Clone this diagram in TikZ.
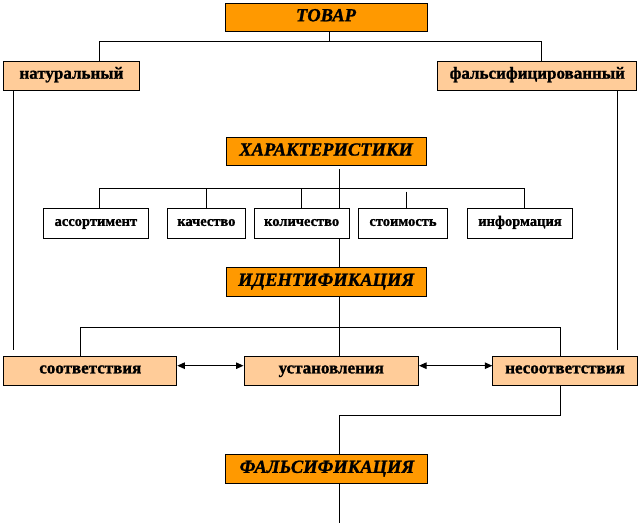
\documentclass[tikz,border=0pt]{standalone}
\usepackage{fontspec}
\setmainfont{Liberation Serif}[FakeBold=1.2]
\usetikzlibrary{arrows.meta}
\definecolor{orng}{HTML}{FF9900}
\definecolor{peach}{HTML}{FFCC99}
\tikzset{
  box/.style={draw, line width=1pt, inner sep=0pt, anchor=north west},
  mainbox/.style={box, fill=orng, minimum height=28.5pt,
    text height=0.76em, text depth=0em,
    font=\fontsize{18.5}{20}\selectfont\bfseries\itshape},
  peachbox/.style={box, fill=peach, minimum height=29pt,
    text height=0.48em, text depth=0em,
    font=\fontsize{17}{19}\selectfont\bfseries},
  whitebox/.style={box, fill=white, minimum height=29.4pt,
    text height=0.48em, text depth=0em,
    font=\fontsize{14.5}{16}\selectfont\bfseries},
  conn/.style={line width=1pt},
  dblarrow/.style={line width=1pt, {Triangle[length=7.5pt,width=6.5pt]}-{Triangle[length=7.5pt,width=6.5pt]}}
}
\begin{document}
\begin{tikzpicture}[x=1pt,y=-1pt]
\useasboundingbox (0,0) rectangle (640,524);
% coordinates of connector bends
\coordinate (t0) at (329.3,41.3);
\coordinate (tl) at (99.3,41.3);
\coordinate (tr) at (541,41.3);
\coordinate (nl) at (13.5,349.5);
\coordinate (fl) at (617.3,349.5);
\coordinate (h0) at (339.7,169.3);
\coordinate (hl) at (99.3,188.3);
\coordinate (hr) at (524.3,188.3);
\coordinate (hk) at (206.2,188.3);
\coordinate (hq) at (301.7,188.3);
\coordinate (hs) at (406.3,191.5);
\coordinate (i0) at (339.7,327.3);
\coordinate (il) at (80.7,327.3);
\coordinate (ir) at (560.3,327.3);
\coordinate (n0) at (560.3,415.3);
\coordinate (n1) at (339.7,415.3);
\coordinate (fend) at (339.7,523);
\coordinate (ay) at (0,365.7);

% nodes
\node[mainbox, minimum width=202pt] (tovar) at (224.5,2.7) {ТОВАР};
\node[peachbox, minimum width=135.5pt] (nat) at (3.2,61.3) {натуральный};
\node[peachbox, minimum width=199pt] (fals) at (437.3,61.3) {фальсифицированный};
\node[mainbox, minimum width=200pt] (har) at (225.6,137) {ХАРАКТЕРИСТИКИ};

% lines behind white boxes
\draw[conn] (h0) -- (i0);
\draw[conn] (hl) -- (hr);
\draw[conn] (hk) -- ++(0,20);
\draw[conn] (hq) -- ++(0,20);
\draw[conn] (hs) -- ++(0,17);
\draw[conn] (hl) -- ++(0,20);
\draw[conn] (hr) -- ++(0,20);

\node[whitebox, minimum width=105.5pt] (ass) at (42.6,208.3) {ассортимент};
\node[whitebox, minimum width=77.5pt] (kach) at (167.1,208.3) {качество};
\node[whitebox, minimum width=95.1pt] (kol) at (253.6,208.3) {количество};
\node[whitebox, minimum width=88.4pt] (stoim) at (358.3,208.3) {стоимость};
\node[whitebox, minimum width=105.9pt] (inf) at (466.5,208.3) {информация};

\node[mainbox, minimum width=200pt] (ident) at (225.6,267.3) {ИДЕНТИФИКАЦИЯ};
\node[peachbox, minimum width=173pt] (sootv) at (3.3,356) {соответствия};
\node[peachbox, minimum width=174.5pt] (ust) at (243.5,356) {установления};
\node[peachbox, minimum width=144.4pt] (nesoot) at (492.3,356) {несоответствия};
\node[mainbox, minimum width=202pt] (falsif) at (225.4,454.3) {ФАЛЬСИФИКАЦИЯ};

% connectors
\draw[conn] (t0 |- tovar.south) -- (t0);
\draw[conn] (tl |- nat.north) -- (tl) -- (tr) -- (tr |- fals.north);
\draw[conn] (nl |- nat.south) -- (nl);
\draw[conn] (fl |- fals.south) -- (fl);
\draw[conn] (i0 |- ident.south) -- (i0 |- ust.north);
\draw[conn] (il |- sootv.north) -- (il) -- (ir) -- (ir |- nesoot.north);
\draw[dblarrow] (sootv.east |- ay) -- (ust.west |- ay);
\draw[dblarrow] (ust.east |- ay) -- (nesoot.west |- ay);
\draw[conn] (n0 |- nesoot.south) -- (n0) -- (n1) -- (n1 |- falsif.north);
\draw[conn] (fend |- falsif.south) -- (fend);
\end{tikzpicture}
\end{document}
